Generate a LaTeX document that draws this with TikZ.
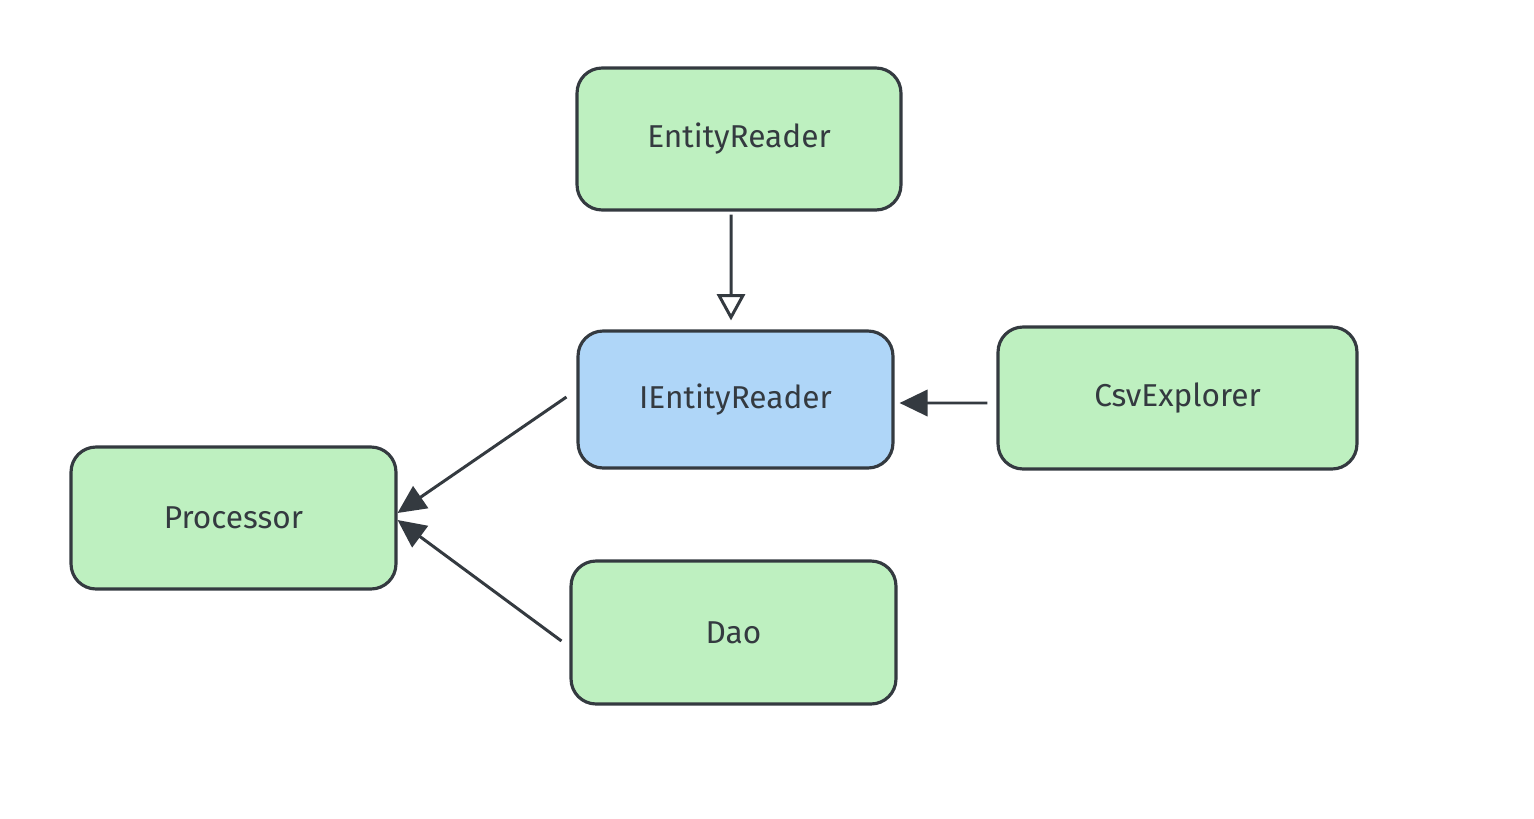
\documentclass[tikz,border=0pt]{standalone}
\usepackage{fontspec}
\setmainfont{Fira Sans}
\usepackage{xcolor}
\usetikzlibrary{arrows.meta}
\definecolor{boxgreen}{HTML}{BEF0C0}
\definecolor{boxblue}{HTML}{AFD6F8}
\definecolor{inkdark}{HTML}{343A40}

\begin{document}
\begin{tikzpicture}[x=0.02cm, y=-0.02cm,
  cls/.style={rectangle, rounded corners=0.5cm, draw=inkdark, line width=1.8pt, fill=boxgreen,
    minimum width=#1, minimum height=2.84cm, font=\fontsize{18}{20}\selectfont, text=inkdark},
  dep/.style={-{Triangle[length=16pt,width=15pt]}, draw=inkdark, line width=1.7pt},
  impl/.style={-{Triangle[open,length=15pt,width=16pt]}, draw=inkdark, line width=1.7pt}]
  \useasboundingbox (0,0) rectangle (1534,818);
  \node[cls=6.48cm] (reader) at (739,139) {EntityReader};
  \node[cls=6.30cm, fill=boxblue, minimum height=2.74cm] (ireader) at (735.5,399.5) {IEntityReader};
  \node[cls=7.18cm] (csv) at (1177.5,398) {CsvExplorer};
  \node[cls=6.50cm] (proc) at (233.5,518) {Processor};
  \node[cls=6.50cm, minimum height=2.86cm] (dao) at (733.5,632.5) {Dao};
  \draw[impl] ([xshift=-0.16cm, yshift=-0.06cm]reader.south) -- ([xshift=-0.09cm, yshift=0.18cm]ireader.north);
  \draw[dep] ([xshift=-0.18cm, yshift=-0.1cm]csv.west) -- ([xshift=0.1cm, yshift=-0.07cm]ireader.east);
  \draw[dep] ([xshift=-0.2cm, yshift=0.05cm]ireader.west) -- ([yshift=0.1cm]proc.east);
  \draw[dep] ([xshift=-0.16cm, yshift=-0.17cm]dao.west) -- ([yshift=-0.04cm]proc.east);
\end{tikzpicture}
\end{document}
